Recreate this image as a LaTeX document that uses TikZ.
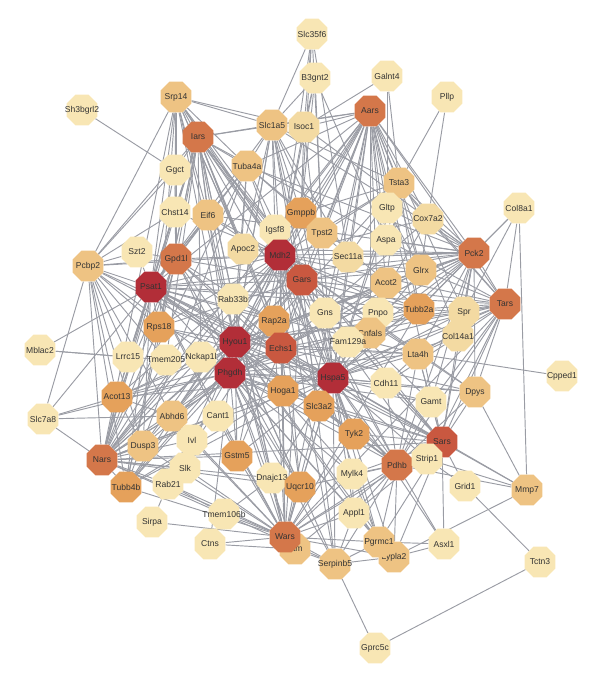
\documentclass[tikz,border=0pt]{standalone}
\usepackage{fontspec}
\setmainfont{Liberation Sans}
\usetikzlibrary{shapes.geometric,backgrounds}
\definecolor{glight}{HTML}{F8E6B4}
\definecolor{gpale}{HTML}{F3DAA2}
\definecolor{gtan}{HTML}{EEC383}
\definecolor{gorange}{HTML}{E5A15B}
\definecolor{grust}{HTML}{D4774A}
\definecolor{gbrick}{HTML}{C95840}
\definecolor{gred}{HTML}{B22E38}
\definecolor{glink}{HTML}{9A9CA4}
\tikzset{
  gene/.style={regular polygon, regular polygon sides=8, minimum size=1.0cm, inner sep=0pt, fill=#1},
  link/.style={draw=glink, line width=0.8pt}
}
\begin{document}
\begin{tikzpicture}[x=0.03cm, y=-0.03cm, every label/.style={font=\fontsize{7.3}{8}\selectfont, text=black!80, inner sep=0pt}]
		\useasboundingbox (0,0) rectangle (600,683);
		% genes, top to bottom
		\node[gene=glight, label=center:Slc35f6] (Slc35f6) at (312,34) {};
		\node[gene=glight, label=center:B3gnt2] (B3gnt2) at (315,78) {};
		\node[gene=glight, label=center:Galnt4] (Galnt4) at (387,76) {};
		\node[gene=glight, label=center:Pllp] (Pllp) at (447,97) {};
		\node[gene=glight, label=center:Sh3bgrl2] (Sh3bgrl2) at (82,110) {};
		\node[gene=gtan, label=center:Srp14] (Srp14) at (176,97) {};
		\node[gene=grust, label=center:Aars] (Aars) at (370,111) {};
		\node[gene=grust, label=center:Iars] (Iars) at (198,137) {};
		\node[gene=gtan, label=center:Slc1a5] (Slc1a5) at (272,125) {};
		\node[gene=gpale, label=center:Isoc1] (Isoc1) at (304,127) {};
		\node[gene=gtan, label=center:Tuba4a] (Tuba4a) at (247,166) {};
		\node[gene=gtan, label=center:Tsta3] (Tsta3) at (399,183) {};
		\node[gene=glight, label=center:Ggct] (Ggct) at (175,170) {};
		\node[gene=glight, label=center:Gltp] (Gltp) at (387,208) {};
		\node[gene=gpale, label=center:Cox7a2] (Cox7a2) at (428,219) {};
		\node[gene=glight, label=center:Col8a1] (Col8a1) at (519,208) {};
		\node[gene=glight, label=center:Chst14] (Chst14) at (175,212) {};
		\node[gene=gtan, label=center:Eif6] (Eif6) at (208,215) {};
		\node[gene=gorange, label=center:Gmppb] (Gmppb) at (301,213) {};
		\node[gene=glight, label=center:Igsf8] (Igsf8) at (275,230) {};
		\node[gene=gtan, label=center:Tpst2] (Tpst2) at (322,233) {};
		\node[gene=glight, label=center:Aspa] (Aspa) at (386,240) {};
		\node[gene=glight, label=center:Szt2] (Szt2) at (137,252) {};
		\node[gene=gpale, label=center:Apoc2] (Apoc2) at (243,249) {};
		\node[gene=gred, label=center:Mdh2] (Mdh2) at (280,255) {};
		\node[gene=gpale, label=center:Sec11a] (Sec11a) at (348,257) {};
		\node[gene=grust, label=center:Gpd1l] (Gpd1l) at (176,259) {};
		\node[gene=gtan, label=center:Pcbp2] (Pcbp2) at (88,266) {};
		\node[gene=grust, label=center:Pck2] (Pck2) at (474,253) {};
		\node[gene=gtan, label=center:Glrx] (Glrx) at (421,270) {};
		\node[gene=gred, label=center:Psat1] (Psat1) at (151,287) {};
		\node[gene=gbrick, label=center:Gars] (Gars) at (302,280) {};
		\node[gene=gtan, label=center:Acot2] (Acot2) at (386,283) {};
		\node[gene=glight, label=center:Rab33b] (Rab33b) at (233,299) {};
		\node[gene=grust, label=center:Tars] (Tars) at (505,304) {};
		\node[gene=glight, label=center:Gns] (Gns) at (325,313) {};
		\node[gene=glight, label=center:Pnpo] (Pnpo) at (378,313) {};
		\node[gene=gorange, label=center:Tubb2a] (Tubb2a) at (419,309) {};
		\node[gene=gpale, label=center:Spr] (Spr) at (464,312) {};
		\node[gene=gorange, label=center:Rap2a] (Rap2a) at (274,321) {};
		\node[gene=gorange, label=center:Rps18] (Rps18) at (159,327) {};
		\node[gene=gtan, label=center:Cnfals] (Cnfals) at (370,333) {};
		\node[gene=gpale, label=center:Col14a1] (Col14a1) at (458,336) {};
		\node[gene=glight, label=center:Fam129a] (Fam129a) at (348,342) {};
		\node[gene=glight, label=center:Mblac2] (Mblac2) at (40,350) {};
		\node[gene=glight, label=center:Lrrc15] (Lrrc15) at (128,357) {};
		\node[gene=glight, label=center:Tmem205] (Tmem205) at (166,360) {};
		\node[gene=glight, label=center:Nckap1l] (Nckap1l) at (201,357) {};
		\node[gene=gred, label=center:Hyou1] (Hyou1) at (235,342) {};
		\node[gene=gbrick, label=center:Echs1] (Echs1) at (281,348) {};
		\node[gene=gred, label=center:Phgdh] (Phgdh) at (230,373) {};
		\node[gene=gred, label=center:Hspa5] (Hspa5) at (333,378) {};
		\node[gene=gtan, label=center:Lta4h] (Lta4h) at (418,354) {};
		\node[gene=glight, label=center:Cdh11] (Cdh11) at (386,383) {};
		\node[gene=glight, label=center:Cpped1] (Cpped1) at (562,376) {};
		\node[gene=gorange, label=center:Acot13] (Acot13) at (117,397) {};
		\node[gene=gorange, label=center:Hoga1] (Hoga1) at (283,391) {};
		\node[gene=gorange, label=center:Slc3a2] (Slc3a2) at (319,406) {};
		\node[gene=gtan, label=center:Dpys] (Dpys) at (475,392) {};
		\node[gene=gtan, label=center:Abhd6] (Abhd6) at (172,416) {};
		\node[gene=glight, label=center:Cant1] (Cant1) at (218,416) {};
		\node[gene=glight, label=center:Gamt] (Gamt) at (431,402) {};
		\node[gene=glight, label=center:Slc7a8] (Slc7a8) at (43,419) {};
		\node[gene=gtan, label=center:Dusp3] (Dusp3) at (143,446) {};
		\node[gene=glight, label=center:Ivl] (Ivl) at (192,440) {};
		\node[gene=gorange, label=center:Tyk2] (Tyk2) at (354,434) {};
		\node[gene=gbrick, label=center:Sars] (Sars) at (442,442) {};
		\node[gene=grust, label=center:Nars] (Nars) at (102,460) {};
		\node[gene=grust, label=center:Pdhb] (Pdhb) at (397,465) {};
		\node[gene=glight, label=center:Strip1] (Strip1) at (427,459) {};
		\node[gene=gorange, label=center:Gstm5] (Gstm5) at (237,456) {};
		\node[gene=glight, label=center:Slk] (Slk) at (185,468) {};
		\node[gene=glight, label=center:Mylk4] (Mylk4) at (352,474) {};
		\node[gene=glight, label=center:Dnajc13] (Dnajc13) at (272,478) {};
		\node[gene=gorange, label=center:Uqcr10] (Uqcr10) at (300,487) {};
		\node[gene=glight, label=center:Grid1] (Grid1) at (465,486) {};
		\node[gene=gtan, label=center:Mmp7] (Mmp7) at (527,490) {};
		\node[gene=gorange, label=center:Tubb4b] (Tubb4b) at (126,487) {};
		\node[gene=glight, label=center:Rab21] (Rab21) at (168,484) {};
		\node[gene=glight, label=center:Appl1] (Appl1) at (354,513) {};
		\node[gene=glight, label=center:Tmem106b] (Tmem106b) at (224,514) {};
		\node[gene=glight, label=center:Sirpa] (Sirpa) at (152,522) {};
		\node[gene=glight, label=center:Ctns] (Ctns) at (210,544) {};
		\node[gene=gtan, label=center:Atm] (Atm) at (295,549) {};
		\node[gene=grust, label=center:Wars] (Wars) at (285,537) {};
		\node[gene=gtan, label=center:Lypla2] (Lypla2) at (394,557) {};
		\node[gene=gtan, label=center:Pgrmc1] (Pgrmc1) at (379,542) {};
		\node[gene=gtan, label=center:Serpinb5] (Serpinb5) at (335,564) {};
		\node[gene=glight, label=center:Asxl1] (Asxl1) at (444,544) {};
		\node[gene=glight, label=center:Tctn3] (Tctn3) at (540,562) {};
		\node[gene=glight, label=center:Gprc5c] (Gprc5c) at (375,648) {};

		% interactions
		\begin{scope}[on background layer]
		\draw[link] (Mdh2) edge (Srp14) edge (Iars) edge (Aars) edge (Slc1a5) edge (Isoc1) edge (Tuba4a) edge (Slc35f6) edge (B3gnt2) edge (Gmppb) edge (Tsta3) edge (Chst14) edge (Eif6) edge (Gpd1l) edge (Pcbp2) edge (Psat1) edge (Pck2) edge (Tars) edge (Gars) edge (Hyou1) edge (Phgdh) edge (Hspa5) edge (Echs1) edge (Rps18) edge (Rap2a) edge (Tubb2a) edge (Acot13) edge (Nars) edge (Sars) edge (Wars) edge (Pdhb) edge (Hoga1) edge (Slc3a2) edge (Tyk2) edge (Gstm5) edge (Uqcr10) edge (Lta4h) edge (Dusp3) edge (Tubb4b) edge (Pgrmc1) edge (Serpinb5) edge (Glrx) edge (Cox7a2) edge (Col14a1) edge (Dpys) edge (Gamt) edge (Abhd6) edge (Strip1);
		\draw[link] (Psat1) edge (Srp14) edge (Iars) edge (Aars) edge (Pcbp2) edge (Gpd1l) edge (Szt2) edge (Mblac2) edge (Slc7a8) edge (Phgdh) edge (Hyou1) edge (Hspa5) edge (Echs1) edge (Gars) edge (Rps18) edge (Acot13) edge (Nars) edge (Sars) edge (Wars) edge (Tars) edge (Pck2) edge (Tubb4b) edge (Dusp3) edge (Slc1a5) edge (Tuba4a) edge (Chst14) edge (Eif6) edge (Ggct) edge (Lrrc15) edge (Rap2a) edge (Tubb2a) edge (Pdhb) edge (Lta4h) edge (Hoga1) edge (Slc3a2) edge (Gstm5);
		\draw[link] (Hyou1) edge (Srp14) edge (Iars) edge (Aars) edge (Slc1a5) edge (Gmppb) edge (Tuba4a) edge (Pcbp2) edge (Gpd1l) edge (Phgdh) edge (Hspa5) edge (Echs1) edge (Gars) edge (Rps18) edge (Nars) edge (Sars) edge (Wars) edge (Tars) edge (Pck2) edge (Pdhb) edge (Tubb2a) edge (Acot13) edge (Uqcr10) edge (Gstm5) edge (Tyk2) edge (Pgrmc1) edge (Serpinb5) edge (Lypla2) edge (Abhd6) edge (Dusp3) edge (Tubb4b) edge (Rab21) edge (Slk) edge (Dnajc13) edge (Eif6) edge (Tpst2) edge (Glrx) edge (Acot2) edge (Spr) edge (Lta4h) edge (Mylk4);
		\draw[link] (Phgdh) edge (Iars) edge (Aars) edge (Pcbp2) edge (Gpd1l) edge (Hspa5) edge (Echs1) edge (Gars) edge (Nars) edge (Sars) edge (Wars) edge (Tars) edge (Pck2) edge (Pdhb) edge (Acot13) edge (Tubb4b) edge (Dusp3) edge (Abhd6) edge (Gstm5) edge (Uqcr10) edge (Rab21) edge (Srp14) edge (Tuba4a) edge (Slc1a5) edge (Tsta3) edge (Tubb2a) edge (Lta4h) edge (Dpys) edge (Gamt) edge (Slc3a2) edge (Tyk2) edge (Mylk4) edge (Appl1) edge (Serpinb5) edge (Atm) edge (Lypla2) edge (Slc7a8) edge (Ctns);
		\draw[link] (Hspa5) edge (Aars) edge (Iars) edge (Gars) edge (Echs1) edge (Sars) edge (Nars) edge (Wars) edge (Tars) edge (Pck2) edge (Pdhb) edge (Tubb2a) edge (Glrx) edge (Cox7a2) edge (Tsta3) edge (Gltp) edge (Slc1a5) edge (Isoc1) edge (Gmppb) edge (Tpst2) edge (Sec11a) edge (Acot2) edge (Lta4h) edge (Dpys) edge (Gamt) edge (Strip1) edge (Mmp7) edge (Tyk2) edge (Mylk4) edge (Appl1) edge (Pgrmc1) edge (Serpinb5) edge (Lypla2) edge (Uqcr10) edge (Dnajc13) edge (Gstm5) edge (Tubb4b) edge (Acot13) edge (Rps18) edge (Pcbp2) edge (Col14a1) edge (Spr) edge (Cdh11) edge (Asxl1);
		\draw[link] (Gars) edge (Aars) edge (Iars) edge (Sars) edge (Nars) edge (Wars) edge (Tars) edge (Pck2) edge (Srp14) edge (Slc1a5) edge (Tuba4a) edge (Tubb2a) edge (Tubb4b) edge (Eif6) edge (Gpd1l) edge (Pdhb) edge (Echs1) edge (Rps18) edge (Glrx) edge (Lta4h) edge (Serpinb5);
		\draw[link] (Echs1) edge (Gpd1l) edge (Pdhb) edge (Acot13) edge (Acot2) edge (Hoga1) edge (Pck2) edge (Uqcr10) edge (Gstm5) edge (Lta4h) edge (Dpys) edge (Cox7a2) edge (Tars) edge (Sars) edge (Nars) edge (Wars) edge (Aars) edge (Iars) edge (Glrx) edge (Abhd6);
		\draw[link] (Aars) edge (Iars) edge (Slc1a5) edge (Isoc1) edge (Tsta3) edge (Pck2) edge (Tars) edge (Sars) edge (Nars) edge (Wars) edge (Tuba4a) edge (Gltp) edge (Cox7a2) edge (Glrx) edge (Tubb2a) edge (Aspa) edge (Sec11a) edge (Tpst2) edge (Gmppb) edge (Igsf8) edge (Acot2) edge (Spr) edge (Pnpo) edge (Gns) edge (Cnfals) edge (Col14a1);
		\draw[link] (Iars) edge (Srp14) edge (Slc1a5) edge (Tuba4a) edge (Ggct) edge (Chst14) edge (Eif6) edge (Gpd1l) edge (Nars) edge (Wars) edge (Tars) edge (Sars) edge (Pcbp2) edge (Rps18) edge (Tubb4b) edge (Apoc2) edge (Igsf8) edge (Rab33b) edge (Lrrc15) edge (Tmem205) edge (Nckap1l) edge (Rap2a);
		\draw[link] (Pck2) edge (Col8a1) edge (Tars) edge (Tsta3) edge (Cox7a2) edge (Gltp) edge (Glrx) edge (Tubb2a) edge (Spr) edge (Col14a1) edge (Acot2) edge (Lta4h) edge (Gamt) edge (Dpys) edge (Sars) edge (Pdhb) edge (Aspa) edge (Sec11a) edge (Pnpo) edge (Cnfals) edge (Slc1a5) edge (Tuba4a) edge (Isoc1) edge (Eif6) edge (Apoc2);
		\draw[link] (Tars) edge (Col8a1) edge (Spr) edge (Col14a1) edge (Tubb2a) edge (Lta4h) edge (Dpys) edge (Gamt) edge (Sars) edge (Wars) edge (Nars) edge (Pdhb) edge (Strip1) edge (Glrx) edge (Cox7a2) edge (Tsta3);
		\draw[link] (Sars) edge (Mmp7) edge (Dpys) edge (Gamt) edge (Strip1) edge (Pdhb) edge (Grid1) edge (Tyk2) edge (Mylk4) edge (Nars) edge (Wars) edge (Lta4h) edge (Col14a1) edge (Cdh11) edge (Slc3a2) edge (Pgrmc1) edge (Lypla2) edge (Asxl1) edge (Appl1);
		\draw[link] (Nars) edge (Slc7a8) edge (Acot13) edge (Dusp3) edge (Tubb4b) edge (Rab21) edge (Slk) edge (Ivl) edge (Abhd6) edge (Lrrc15) edge (Tmem205) edge (Pcbp2) edge (Rps18) edge (Wars) edge (Gstm5) edge (Cant1) edge (Rab33b) edge (Nckap1l) edge (Srp14) edge (Tuba4a) edge (Gpd1l) edge (Uqcr10) edge (Dnajc13) edge (Serpinb5);
		\draw[link] (Wars) edge (Sirpa) edge (Ctns) edge (Atm) edge (Serpinb5) edge (Pgrmc1) edge (Lypla2) edge (Appl1) edge (Tmem106b) edge (Rab21) edge (Tubb4b) edge (Dusp3) edge (Slk) edge (Ivl) edge (Gstm5) edge (Dnajc13) edge (Uqcr10) edge (Mylk4) edge (Tyk2) edge (Pdhb) edge (Slc3a2) edge (Hoga1) edge (Cant1) edge (Abhd6) edge (Rap2a) edge (Rab33b) edge (Tubb2a);
		\draw[link] (Gpd1l) edge (Szt2) edge (Pcbp2) edge (Chst14) edge (Eif6) edge (Srp14) edge (Ggct) edge (Tuba4a) edge (Rps18) edge (Acot13) edge (Pdhb) edge (Uqcr10) edge (Tubb4b) edge (Rap2a);
		\draw[link] (Pdhb) edge (Strip1) edge (Mylk4) edge (Tyk2) edge (Asxl1) edge (Pgrmc1) edge (Lypla2) edge (Appl1) edge (Dpys) edge (Gamt) edge (Mmp7) edge (Lta4h) edge (Uqcr10) edge (Slc3a2) edge (Cdh11) edge (Serpinb5) edge (Atm);
		\draw[link] (Srp14) edge (Slc1a5) edge (Tuba4a) edge (Ggct) edge (Pcbp2) edge (Chst14) edge (Eif6) edge (Isoc1) edge (Rps18) edge (Apoc2) edge (Igsf8) edge (Rap2a);
		\draw[link] (Pcbp2) edge (Szt2) edge (Slc7a8) edge (Acot13) edge (Rps18) edge (Lrrc15) edge (Tubb4b) edge (Dusp3) edge (Abhd6) edge (Tmem205) edge (Ggct) edge (Chst14);
		\draw[link] (Slc1a5) edge (Slc35f6) edge (B3gnt2) edge (Isoc1) edge (Tuba4a) edge (Igsf8) edge (Apoc2) edge (Gmppb) edge (Tpst2) edge (Sec11a) edge (Slc3a2) edge (Tsta3);
		\draw[link] (Tsta3) edge (Pllp) edge (Galnt4) edge (Gltp) edge (Cox7a2) edge (Gmppb) edge (Tpst2) edge (Sec11a) edge (Glrx) edge (Aspa) edge (Tubb2a) edge (Acot2);
		\draw[link] (Gmppb) edge (B3gnt2) edge (Slc35f6) edge (Tpst2) edge (Isoc1) edge (Igsf8) edge (Tuba4a) edge (Sec11a) edge (Rap2a);
		\draw[link] (Galnt4) edge (Isoc1) edge (Gltp); \draw[link] (Pllp) edge (Cox7a2);
		\draw[link] (Slc35f6) edge (Isoc1) edge (Tpst2) edge (Sec11a); \draw[link] (B3gnt2) edge (Isoc1) edge (Tpst2) edge (Aspa);
		\draw[link] (Sh3bgrl2) edge (Ggct);
		\draw[link] (Mblac2) edge (Tmem205) edge (Lrrc15); \draw[link] (Slc7a8) edge (Acot13) edge (Abhd6);
		\draw[link] (Cpped1) edge (Lta4h);
		\draw[link] (Col8a1) edge (Mmp7) edge (Spr) edge (Tubb2a);
		\draw[link] (Mmp7) edge (Dpys) edge (Strip1) edge (Lypla2);
		\draw[link] (Tctn3) edge (Gprc5c) edge (Grid1); \draw[link] (Gprc5c) edge (Serpinb5);
		\draw[link] (Asxl1) edge (Pgrmc1) edge (Lypla2);
		\draw[link] (Sirpa) edge (Rab21); \draw[link] (Ctns) edge (Atm) edge (Tmem106b);
		\draw[link] (Grid1) edge (Strip1);
		\draw[link] (Tmem106b) edge (Rab21) edge (Dnajc13);
		\draw[link] (Appl1) edge (Pgrmc1) edge (Mylk4) edge (Serpinb5);
		\draw[link] (Serpinb5) edge (Pgrmc1) edge (Atm) edge (Lypla2); \draw[link] (Pgrmc1) edge (Lypla2) edge (Mylk4);
		\draw[link] (Cdh11) edge (Lta4h) edge (Col14a1); \draw[link] (Lta4h) edge (Col14a1) edge (Gamt) edge (Dpys);
		\draw[link] (Spr) edge (Tubb2a) edge (Col14a1); \draw[link] (Glrx) edge (Cox7a2) edge (Acot2) edge (Gltp);
		\draw[link] (Tubb2a) edge (Tubb4b) edge (Tuba4a); \draw[link] (Tubb4b) edge (Tuba4a);
		\draw[link] (Acot13) edge (Acot2) edge (Abhd6) edge (Dusp3);
		\draw[link] (Rap2a) edge (Rab21) edge (Rab33b); \draw[link] (Gns) edge (Pnpo); \draw[link] (Fam129a) edge (Cnfals);
		\end{scope}
\end{tikzpicture}
\end{document}
